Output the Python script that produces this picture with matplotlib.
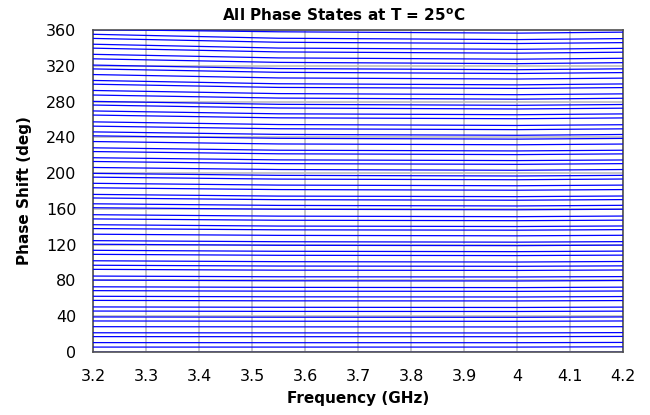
import matplotlib
matplotlib.use("Agg")
import matplotlib.pyplot as plt

plt.rcParams['font.family'] = ['DejaVu Sans']

FREQ_GHZ = [3.2, 3.55, 4.0, 4.2]

# phase shift (deg) of the 64 states, one list per frequency point
PHASE_3P20 = [
    0.0, 5.5, 10.5, 17.2, 21.5, 28.3, 34.7, 39.2, 45.8, 50.4,
    57.7, 62.3, 68.6, 72.9, 80.4, 84.9, 92.4, 97.0, 102.0, 109.2,
    113.7, 120.5, 124.5, 131.7, 138.0, 142.3, 148.8, 153.5, 161.3, 165.7,
    172.2, 176.2, 183.6, 188.6, 195.5, 199.7, 206.3, 213.0, 217.2, 224.1,
    228.3, 235.3, 241.7, 246.1, 252.5, 257.3, 264.9, 269.5, 276.1, 280.2,
    287.3, 292.4, 299.4, 303.6, 310.2, 316.5, 320.8, 327.8, 332.8, 339.7,
    344.1, 350.6, 355.2, 360.5,
]
PHASE_3P55 = [
    0.0, 5.5, 10.4, 17.1, 21.4, 28.1, 34.4, 38.9, 45.4, 50.0,
    57.2, 61.7, 68.0, 72.3, 79.6, 84.1, 91.5, 96.1, 101.0, 108.1,
    112.6, 119.3, 123.3, 130.4, 136.6, 140.8, 147.3, 151.9, 159.6, 163.9,
    170.3, 174.3, 181.6, 186.6, 193.3, 197.5, 204.0, 210.6, 214.8, 221.6,
    225.6, 232.6, 238.9, 243.3, 249.6, 254.3, 261.8, 266.3, 272.8, 276.9,
    283.9, 288.9, 295.8, 299.9, 306.4, 312.7, 316.9, 323.8, 328.8, 335.5,
    339.8, 346.3, 350.8, 358.0,
]
PHASE_4P00 = [
    0.0, 5.5, 10.4, 17.1, 21.3, 28.0, 34.3, 38.8, 45.3, 49.8,
    57.1, 61.5, 67.8, 72.0, 79.4, 83.9, 91.2, 95.8, 100.6, 107.8,
    112.2, 118.9, 122.8, 129.9, 136.2, 140.3, 146.8, 151.3, 159.0, 163.3,
    169.7, 173.7, 180.9, 185.9, 192.6, 196.8, 203.2, 209.8, 214.0, 220.7,
    224.8, 231.7, 238.0, 242.3, 248.6, 253.3, 260.8, 265.3, 271.7, 275.8,
    282.7, 287.7, 294.7, 298.7, 305.2, 311.4, 315.6, 322.4, 327.4, 334.1,
    338.4, 344.9, 349.3, 356.5,
]
PHASE_4P20 = [
    0.0, 5.8, 10.7, 17.4, 21.7, 28.3, 34.7, 39.2, 45.7, 50.2,
    57.5, 62.0, 68.2, 72.5, 79.9, 84.3, 91.7, 96.3, 101.2, 108.3,
    112.8, 119.5, 123.4, 130.5, 136.8, 140.9, 147.4, 152.0, 159.6, 164.0,
    170.4, 174.4, 181.6, 186.6, 193.4, 197.5, 204.0, 210.6, 214.7, 221.5,
    225.6, 232.5, 238.8, 243.2, 249.5, 254.1, 261.7, 266.2, 272.6, 276.7,
    283.7, 288.6, 295.6, 299.7, 306.2, 312.4, 316.6, 323.5, 328.4, 335.2,
    339.5, 345.9, 350.4, 357.6,
]

X_TICKS = [3.2, 3.3, 3.4, 3.5, 3.6, 3.7, 3.8, 3.9, 4.0, 4.1, 4.2]
X_TICK_LABELS = ['3.2', '3.3', '3.4', '3.5', '3.6', '3.7', '3.8', '3.9', '4', '4.1', '4.2']
Y_TICKS = [0, 40, 80, 120, 160, 200, 240, 280, 320, 360]


def plot_phase_states(output_path):
    """
    Draws every phase state against frequency and saves the figure.
    """
    fig = plt.figure(figsize=(6.5, 4.15), dpi=100)
    ax = fig.add_axes([0.1431, 0.1518, 0.8154, 0.7759])

    columns = [PHASE_3P20, PHASE_3P55, PHASE_4P00, PHASE_4P20]
    for i in range(len(PHASE_3P20)):
        ax.plot(FREQ_GHZ, [col[i] for col in columns],
                color='#0000ff', linewidth=0.9, zorder=3)

    ax.set_xlim(3.2, 4.2)
    ax.set_ylim(0, 360)
    ax.set_xticks(X_TICKS)
    ax.set_xticklabels(X_TICK_LABELS)
    ax.set_yticks(Y_TICKS)
    ax.tick_params(axis='x', length=0, pad=12, labelsize=11.5)
    ax.tick_params(axis='y', length=0, pad=12, labelsize=11.5)

    ax.grid(True, color='#bdbdbd', linewidth=1.2, zorder=1)
    ax.set_axisbelow(True)
    for spine in ax.spines.values():
        spine.set_color('#505050')
        spine.set_linewidth(1.2)

    ax.set_xlabel('Frequency (GHz)', fontsize=11, fontweight='bold', labelpad=5)
    ax.set_ylabel('Phase Shift (deg)', fontsize=11, fontweight='bold', labelpad=10)
    fig.text(0.528, 0.963, r'All Phase States at T = 25$^{\mathbf{o}}$C',
             ha='center', va='center', fontsize=11, fontweight='bold')

    fig.savefig(output_path, dpi=100)
    plt.close(fig)


plot_phase_states('out.png')
